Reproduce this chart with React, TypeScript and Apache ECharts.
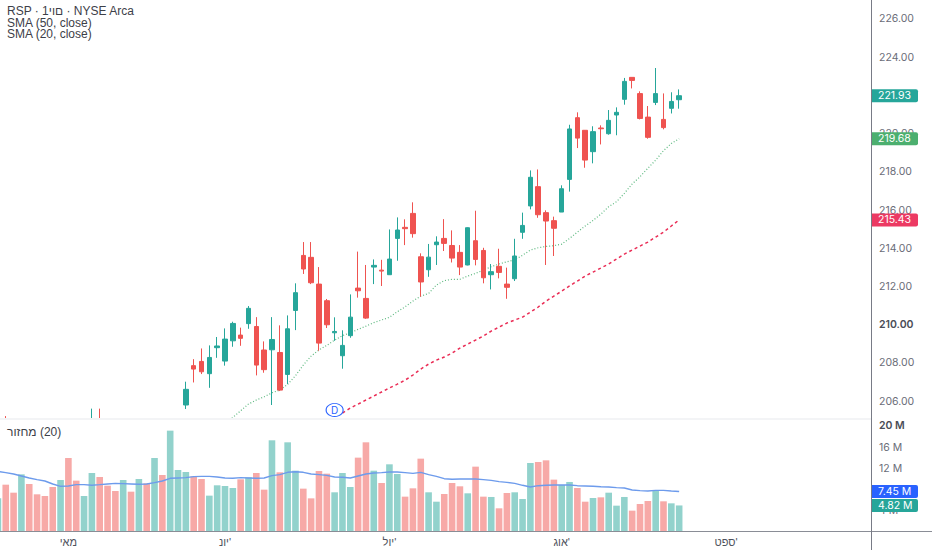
import React, { useEffect, useRef } from 'react';
import * as echarts from 'echarts';

const UP = '#26a69a';
const DOWN = '#ef5350';

// one slot per trading day; month names sit on the day they start
const monthTicks: Record<number, string> = {
  9: 'מאי',
  29: "יונ'",
  50: "יול'",
  72: "אוג'",
  93: "ספט'"
};
const categories = Array.from({ length: 112 }, (_, i) => monthTicks[i] ?? '');

const priceTicks = [206, 208, 210, 212, 214, 216, 218, 220, 222, 224, 226];
const volumeTicks = [4, 8, 12, 16, 20];

// [open, close, low, high] - null where the candle is below the visible price range
const candles: (number[] | null)[] = [
  null, [204.6, 204.2, 204.0, 205.16], null, null, null, null, null, null, null, null, null, null,
  [204.2, 204.6, 204.0, 205.55], [204.6, 204.2, 204.0, 205.55], null, null, null, null, null, null, null, null, null, null,
  [205.74, 206.56, 205.53, 206.96],
  [207.8, 207.62, 206.92, 208.14],
  [208.02, 207.48, 207.36, 208.7],
  [207.38, 208.23, 206.64, 208.86],
  [208.74, 208.83, 208.21, 209.3],
  [208.04, 209.19, 207.8, 209.75],
  [209.1, 210.01, 208.79, 210.1],
  [209.4, 209.23, 208.84, 209.79],
  [210.0, 210.8, 209.73, 210.92],
  [209.85, 207.83, 207.29, 210.34],
  [208.62, 207.59, 207.43, 209.07],
  [208.63, 209.17, 205.74, 210.34],
  [208.49, 206.52, 206.47, 209.91],
  [207.34, 209.73, 206.84, 210.43],
  [210.69, 211.62, 209.66, 212.11],
  [213.57, 212.86, 212.6, 214.27],
  [213.47, 212.14, 212.07, 214.27],
  [212.07, 208.98, 208.58, 212.96],
  [211.2, 209.94, 209.77, 211.29],
  [209.52, 209.59, 209.1, 210.33],
  [208.32, 208.86, 207.64, 209.65],
  [209.37, 210.34, 209.26, 211.53],
  [211.86, 211.72, 211.36, 213.77],
  [211.32, 210.29, 210.25, 213.07],
  [212.96, 213.05, 212.07, 213.36],
  [212.8, 212.75, 211.97, 213.34],
  [212.56, 213.38, 212.56, 214.93],
  [214.46, 214.9, 213.29, 215.56],
  [215.04, 214.97, 214.11, 215.46],
  [215.77, 214.71, 214.5, 216.35],
  [213.5, 212.18, 211.41, 213.68],
  [212.82, 213.48, 212.45, 214.17],
  [214.13, 214.27, 213.07, 214.57],
  [214.46, 214.2, 213.8, 215.47],
  [214.09, 213.43, 213.2, 214.88],
  [213.73, 212.96, 212.54, 214.11],
  [213.07, 215.02, 213.05, 215.04],
  [214.34, 213.36, 213.05, 215.91],
  [213.83, 212.4, 212.11, 213.97],
  [212.56, 212.72, 211.79, 213.12],
  [213.0, 212.68, 212.37, 213.92],
  [212.07, 211.9, 211.3, 212.93],
  [212.35, 213.54, 212.23, 214.44],
  [214.78, 215.14, 214.44, 215.81],
  [216.16, 217.66, 215.98, 218.02],
  [217.17, 215.7, 215.54, 218.07],
  [215.81, 215.37, 213.07, 215.93],
  [215.39, 214.99, 213.54, 215.6],
  [215.84, 217.06, 215.84, 217.24],
  [217.55, 220.19, 216.91, 220.41],
  [220.78, 219.71, 219.19, 221.06],
  [220.12, 218.56, 218.16, 220.13],
  [219.0, 220.05, 218.39, 220.33],
  [220.24, 220.2, 219.38, 220.38],
  [219.94, 220.64, 219.89, 221.18],
  [220.92, 221.06, 219.86, 221.32],
  [221.74, 222.68, 221.46, 222.86],
  [222.89, 222.73, 222.31, 222.89],
  [222.04, 220.74, 220.69, 222.16],
  [220.81, 219.75, 219.68, 221.39],
  [221.58, 222.04, 221.44, 223.38],
  [220.69, 220.26, 220.17, 222.05],
  [221.27, 221.63, 221.0, 222.11],
  [221.72, 221.93, 221.25, 222.26]
];

// volume in millions, day by day
const volumes = [
  6.16, 8.74, 7.23, 10.69, 8.87, 6.92, 6.6, 8.3, 9.62, 13.77, 9.5, 6.6, 10.94, 10.19, 8.55, 7.55,
  9.62, 7.42, 9.81, 8.99, 13.77, 10.57, 18.93, 11.51, 11.13, 10.31, 9.81, 6.67, 8.62, 8.49, 8.11, 9.75,
  10.13, 10.94, 7.8, 17.11, 11.07, 16.73, 11.38, 7.99, 6.16, 11.32, 10.82, 7.3, 10.94, 8.3, 13.84, 16.73,
  11.38, 9.06, 12.58, 10.75, 6.48, 8.05, 13.65, 7.3, 5.53, 6.98, 9.06, 8.43, 7.11, 12.14, 6.48, 6.42,
  4.28, 7.17, 7.3, 6.04, 12.83, 13.02, 13.33, 9.69, 8.68, 9.25, 8.11, 5.53, 6.23, 6.35, 7.23, 4.78,
  6.42, 3.84, 5.09, 5.66, 7.67, 5.6, 5.22, 4.82
];

// 1 = up day (teal), 0 = down day (red), for the candles cut off below the pane too
const volumeUp = [
  1, 0, 0, 1, 0, 0, 0, 0, 1, 0, 0, 1, 1, 0, 0, 0, 1, 0, 1, 0, 1, 0, 1, 1, 1, 0, 0, 1, 1, 1, 1, 0,
  1, 0, 0, 1, 0, 1, 1, 0, 0, 0, 0, 1, 1, 1, 0, 0, 1, 0, 1, 1, 0, 0, 0, 1, 1, 0, 0, 0, 1, 0, 0, 1,
  0, 0, 1, 1, 1, 0, 0, 0, 1, 1, 0, 0, 1, 0, 1, 1, 1, 0, 0, 0, 1, 0, 1, 1
];

const volumeMa = [
  11.26, 11.01, 10.75, 10.38, 10.0, 9.69, 9.43, 8.87, 8.43, 8.49, 8.74, 8.74, 8.62, 8.74, 8.87, 8.99,
  8.93, 8.87, 8.81, 8.87, 9.12, 9.43, 9.94, 10.0, 10.06, 10.25, 10.31, 10.31, 10.19, 10.0, 9.94, 10.06,
  10.0, 9.94, 10.0, 10.44, 10.63, 11.07, 11.19, 11.07, 10.75, 10.63, 10.5, 10.19, 10.13, 10.0, 10.38, 10.75,
  10.94, 11.01, 11.13, 11.13, 11.01, 10.88, 11.07, 10.63, 10.31, 9.87, 9.75, 9.81, 9.81, 9.81, 9.69, 9.56,
  9.31, 9.18, 8.99, 8.62, 8.3, 8.55, 8.62, 8.68, 8.68, 8.68, 8.55, 8.49, 8.43, 8.36, 8.3, 8.18,
  8.11, 7.74, 7.61, 7.55, 7.67, 7.67, 7.55, 7.45
];

// SMA 20 is on screen from day 29, SMA 50 from day 44
const sma20Start = 29;
const sma20 = [
  204.74, 205.09, 205.44, 205.79, 206.0, 206.17, 206.38, 206.52, 206.82, 207.27, 207.83, 208.3, 208.62,
  208.86, 209.14, 209.37, 209.52, 209.7, 209.87, 210.05, 210.19, 210.33, 210.62, 210.88, 211.18, 211.44,
  211.58, 212.02, 212.25, 212.32, 212.32, 212.49, 212.63, 212.8, 212.98, 213.12, 213.24, 213.34, 213.58,
  213.85, 213.97, 214.04, 214.08, 214.16, 214.46, 214.79, 215.11, 215.4, 215.73, 216.12, 216.38, 216.82,
  217.31, 217.69, 218.13, 218.56, 219.05, 219.43, 219.68
];
const sma50Start = 44;
const sma50 = [
  205.32, 205.58, 205.79, 206.0, 206.21, 206.42, 206.63, 206.83, 207.04, 207.31, 207.62, 207.88, 208.09,
  208.25, 208.46, 208.72, 208.93, 209.14, 209.35, 209.61, 209.82, 210.03, 210.19, 210.34, 210.6, 210.87,
  211.18, 211.44, 211.7, 211.97, 212.23, 212.49, 212.7, 212.91, 213.12, 213.38, 213.64, 213.85, 214.06,
  214.27, 214.53, 214.79, 215.11, 215.43
];

const offset = (start: number, values: number[]) => [
  ...Array.from({ length: start }, () => '-' as number | string),
  ...values
];

// coloured price tag on the axis, held by an invisible mark line at the value
const tag = (value: number, text: string, color: string) => ({
  yAxis: value,
  label: { formatter: text, backgroundColor: color }
});

const tagLine = (tags: object[]) => ({
  silent: true,
  symbol: 'none',
  precision: 2,
  animation: false,
  lineStyle: { color: 'rgba(0,0,0,0)', width: 0 },
  label: {
    show: true,
    position: 'end',
    distance: 0,
    color: '#ffffff',
    fontFamily: 'Inter, sans-serif',
    fontSize: 10.5,
    lineHeight: 11,
    width: 34,
    padding: [1, 6, 1, 7],
    borderRadius: [0, 2, 2, 0]
  },
  data: tags
});

// the 210 and 20 M ticks are drawn darker than the others
const tickLabel = (text: string, strong: boolean) => (strong ? `{strong|${text}}` : text);

const AXIS_TEXT = {
  color: '#6a6d78',
  fontFamily: 'Inter, sans-serif',
  fontSize: 10.5,
  margin: 8,
  padding: [2, 0, 0, 0],
  rich: {
    strong: { color: '#4a4d57', fontFamily: 'Inter, sans-serif', fontSize: 10.5, fontWeight: 600 }
  }
};

const App: React.FC = () => {
  const chartRef = useRef<HTMLDivElement>(null);

  useEffect(() => {
    if (!chartRef.current) return;
    document.body.style.margin = '0';

    const chart = echarts.init(chartRef.current, undefined, { renderer: 'svg' });

    const option = {
      animation: false,
      backgroundColor: '#ffffff',
      title: [
        // the reference draws the day word left to right after the 1, hence the override
        { text: 'RSP · \u202D1יום\u202C · NYSE Arca', top: 5 },
        { text: 'SMA (50, close)', top: 17 },
        { text: 'SMA (20, close)', top: 28 },
        { text: 'מחזור\u200E (20)', top: 426 }
      ].map((t) => ({
        ...t,
        left: 7,
        padding: 0,
        textStyle: {
          color: '#3d4048',
          fontFamily: '"Liberation Sans", sans-serif',
          fontSize: 12,
          fontWeight: 'normal'
        }
      })),
      graphic: [
        // candles do not clip at the pane edge, so the volume pane sits on a white mask
        { type: 'rect', shape: { x: 0, y: 418, width: 871, height: 113 }, style: { fill: '#ffffff' }, z: 5 },
        { type: 'rect', shape: { x: 0, y: 418, width: 871, height: 2 }, style: { fill: '#f3f4f6' }, z: 6 },
        { type: 'line', shape: { x1: 0, y1: 531.5, x2: 932, y2: 531.5 }, style: { stroke: '#8a8d96', lineWidth: 1 }, z: 8 },
        { type: 'line', shape: { x1: 871.5, y1: 0, x2: 871.5, y2: 550 }, style: { stroke: '#787b86', lineWidth: 1 }, z: 8 }
      ],
      grid: [
        { left: -6, right: 61, top: 0, height: 418, outerBoundsMode: 'none' },
        { left: -6, right: 61, top: 420, height: 111, outerBoundsMode: 'none' }
      ],
      xAxis: [
        {
          type: 'category',
          gridIndex: 0,
          data: categories,
          axisLine: { show: false },
          axisTick: { show: false },
          axisLabel: { show: false },
          splitLine: { show: false }
        },
        {
          type: 'category',
          gridIndex: 1,
          data: categories,
          axisLine: { show: false },
          axisTick: { show: false },
          axisLabel: {
            interval: 0,
            color: '#4f525c',
            fontFamily: '"Liberation Sans", sans-serif',
            fontSize: 11,
            margin: 5,
            hideOverlap: false
          },
          splitLine: { show: false }
        }
      ],
      yAxis: [
        {
          type: 'value',
          gridIndex: 0,
          position: 'right',
          min: 205.06,
          max: 226.94,
          axisLine: { show: false },
          axisTick: { show: false },
          splitLine: { show: false },
          axisLabel: {
            ...AXIS_TEXT,
            customValues: priceTicks,
            formatter: (v: number) => tickLabel(v.toFixed(2), v === 210)
          }
        },
        {
          type: 'value',
          gridIndex: 1,
          position: 'right',
          min: 0,
          max: 20.94,
          axisLine: { show: false },
          axisTick: { show: false },
          splitLine: { show: false },
          axisLabel: {
            ...AXIS_TEXT,
            customValues: volumeTicks,
            formatter: (v: number) => tickLabel(`${v} M`, v === 20)
          }
        }
      ],
      series: [
        {
          name: 'SMA 20',
          type: 'line',
          data: offset(sma20Start, sma20),
          showSymbol: false,
          silent: true,
          z: 3,
          lineStyle: { color: '#5cb87f', width: 1.2, type: [1, 2] },
          markLine: tagLine([tag(219.68, '219.68', '#4caf6f')])
        },
        {
          name: 'SMA 50',
          type: 'line',
          data: offset(sma50Start, sma50),
          showSymbol: false,
          silent: true,
          z: 3,
          lineStyle: { color: '#ea2c55', width: 1.5, type: [3, 3] },
          markLine: tagLine([tag(215.43, '215.43', '#ec3a63')]),
          markPoint: {
            silent: true,
            symbol: 'circle',
            symbolSize: [17, 13],
            itemStyle: { color: '#ffffff', borderColor: '#2962ff', borderWidth: 1 },
            label: {
              show: true,
              position: 'inside',
              formatter: 'D',
              color: '#2962ff',
              fontFamily: 'Inter, sans-serif',
              fontSize: 10
            },
            data: [{ coord: [43, 205.48] }]
          }
        },
        {
          name: 'RSP',
          type: 'candlestick',
          data: candles.map((c) => c ?? ['-', '-', '-', '-']),
          barWidth: 5,
          z: 4,
          itemStyle: {
            color: UP,
            color0: DOWN,
            borderColor: UP,
            borderColor0: DOWN,
            borderWidth: 1
          },
          markLine: tagLine([tag(221.93, '221.93', UP)])
        },
        {
          name: 'Volume',
          type: 'bar',
          xAxisIndex: 1,
          yAxisIndex: 1,
          barWidth: 6.6,
          z: 6,
          data: volumes.map((v, i) => ({
            value: v,
            itemStyle: { color: volumeUp[i] ? '#92d2cc' : '#f7a9a7' }
          })),
          markLine: tagLine([tag(4.82, '4.82 M', UP)])
        },
        {
          name: 'Volume MA',
          type: 'line',
          xAxisIndex: 1,
          yAxisIndex: 1,
          data: volumeMa,
          showSymbol: false,
          silent: true,
          z: 7,
          lineStyle: { color: '#6d9bec', width: 1.4 },
          markLine: tagLine([tag(7.45, '7.45 M', '#2962ff')])
        }
      ]
    };

    // eslint-disable-next-line @typescript-eslint/no-explicit-any
    chart.setOption(option as any);

    return () => {
      chart.dispose();
    };
  }, []);

  return (
    <div
      ref={chartRef}
      style={{ position: 'absolute', left: 0, top: 0, width: 932, height: 550 }}
    />
  );
};

export default App;
